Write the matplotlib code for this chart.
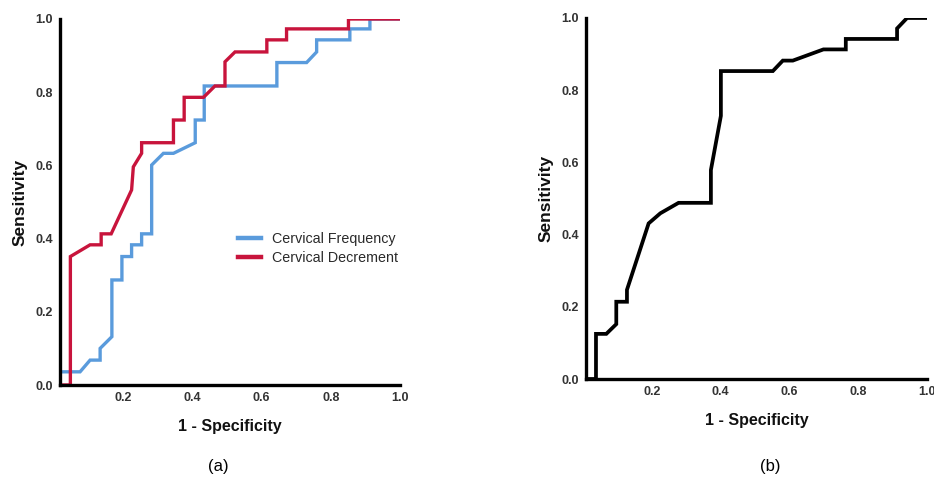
import matplotlib
matplotlib.use("Agg")
import matplotlib.pyplot as plt

# ---- data ----
freq_x = [0.017, 0.075, 0.104, 0.133, 0.133, 0.167, 0.167, 0.196, 0.196, 0.224, 0.224, 0.253, 0.253,
          0.282, 0.282, 0.316, 0.345, 0.408, 0.408, 0.434, 0.434, 0.644, 0.644, 0.730, 0.759, 0.759,
          0.855, 0.855, 0.913, 0.913, 1.0]
freq_y = [0.036, 0.036, 0.068, 0.068, 0.100, 0.132, 0.287, 0.287, 0.351, 0.351, 0.383, 0.383, 0.413,
          0.413, 0.601, 0.633, 0.633, 0.662, 0.724, 0.724, 0.817, 0.817, 0.881, 0.881, 0.910, 0.943,
          0.943, 0.973, 0.973, 1.0, 1.0]

decr_x = [0.017, 0.047, 0.047, 0.104, 0.136, 0.136, 0.165, 0.224, 0.229, 0.253, 0.253, 0.345, 0.345,
          0.376, 0.376, 0.432, 0.465, 0.494, 0.494, 0.523, 0.615, 0.615, 0.672, 0.672, 0.851, 0.851, 1.0]
decr_y = [0.0, 0.0, 0.351, 0.383, 0.383, 0.413, 0.413, 0.533, 0.596, 0.633, 0.662, 0.662, 0.724,
          0.724, 0.786, 0.786, 0.817, 0.817, 0.883, 0.910, 0.910, 0.943, 0.943, 0.973, 0.973, 1.0, 1.0]

b_x = [0.012, 0.038, 0.038, 0.068, 0.097, 0.097, 0.128, 0.128, 0.191, 0.225, 0.278, 0.372, 0.372,
       0.401, 0.401, 0.552, 0.581, 0.610, 0.699, 0.764, 0.764, 0.913, 0.913, 0.942, 1.0]
b_y = [0.0, 0.0, 0.125, 0.125, 0.152, 0.214, 0.214, 0.247, 0.431, 0.459, 0.488, 0.488, 0.579,
       0.729, 0.853, 0.853, 0.882, 0.882, 0.913, 0.913, 0.942, 0.942, 0.971, 1.0, 1.0]

xticks = [0.2, 0.4, 0.6, 0.8, 1.0]
yticks = [0.0, 0.2, 0.4, 0.6, 0.8, 1.0]
tick_labels_x = ["0.2", "0.4", "0.6", "0.8", "1.0"]
tick_labels_y = ["0.0", "0.2", "0.4", "0.6", "0.8", "1.0"]

plt.rcParams['font.family'] = ['Liberation Sans', 'DejaVu Sans']

fig = plt.figure(figsize=(9.34, 4.84), dpi=100)
W, H = 934, 484

def make_ax(left, right, top, bottom, xlo):
    ax = fig.add_axes([left / W, (H - bottom) / H, (right - left) / W, (bottom - top) / H])
    ax.set_xlim(xlo, 1.0)
    ax.set_ylim(0, 1.0)
    for s in ("top", "right"):
        ax.spines[s].set_visible(False)
    for s in ("left", "bottom"):
        ax.spines[s].set_linewidth(2.4)
        ax.spines[s].set_color("black")
    ax.set_xticks(xticks)
    ax.set_xticklabels(tick_labels_x)
    ax.set_yticks(yticks)
    ax.set_yticklabels(tick_labels_y)
    ax.tick_params(length=0, pad=5, labelsize=9, labelcolor="#333333")
    for lab in ax.get_xticklabels() + ax.get_yticklabels():
        lab.set_fontweight("bold")
    ax.set_ylabel("Sensitivity", fontsize=12.5, fontweight="bold", labelpad=6, color="#111111")
    ax.set_xlabel("1 - Specificity", fontsize=11.5, fontweight="bold", labelpad=11, color="#111111")
    ax.patch.set_alpha(0)
    return ax

ax1 = make_ax(60, 400, 19, 385, 0.017)
ax1.plot(freq_x, freq_y, color="#5A9BDC", lw=2.4, label="Cervical Frequency", solid_joinstyle="miter")
ax1.plot(decr_x, decr_y, color="#C8143C", lw=2.4, label="Cervical Decrement", solid_joinstyle="miter")
leg = ax1.legend(loc="center left", bbox_to_anchor=(0.524, 0.373), frameon=False,
                 borderaxespad=0, borderpad=0, handlelength=1.6, handletextpad=0.75,
                 labelspacing=0.3, fontsize=10.3)
for t in leg.get_texts():
    t.set_color("#2a2a2a")
for l in leg.get_lines():
    l.set_linewidth(3.2)

ax2 = make_ax(586, 927, 18, 379, 0.009)
ax2.plot(b_x, b_y, color="black", lw=2.7, solid_joinstyle="miter")

fig.text(218 / W, 1 - 467 / H, "(a)", ha="center", va="center", fontsize=12)
fig.text(770 / W, 1 - 467 / H, "(b)", ha="center", va="center", fontsize=12)

fig.savefig("out.png", dpi=100)
